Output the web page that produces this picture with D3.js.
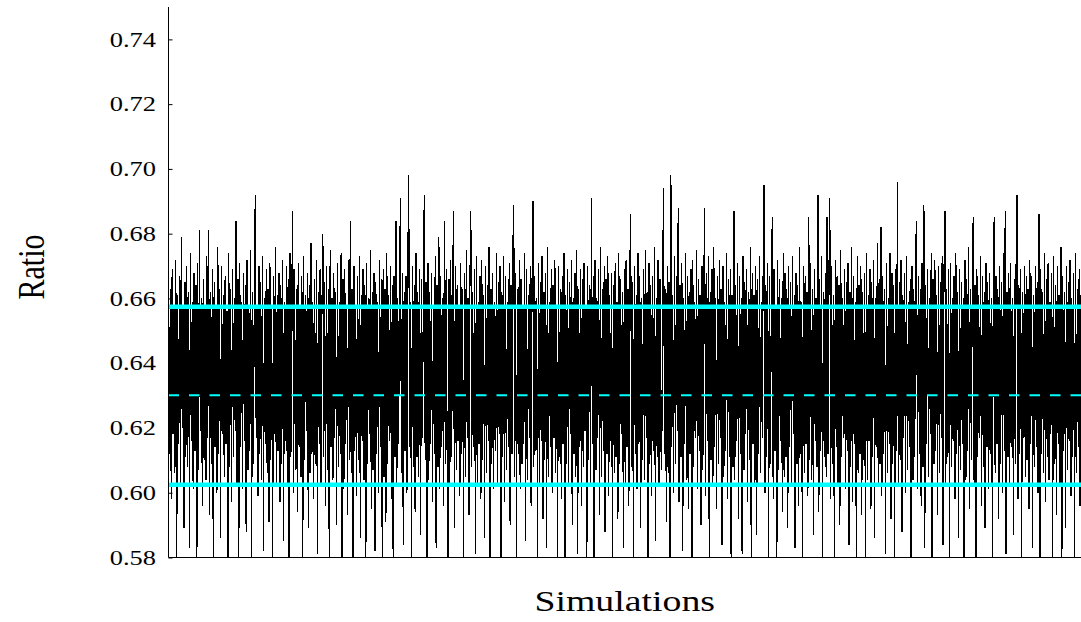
<!DOCTYPE html>
<html><head><meta charset="utf-8">
<script src="https://cdn.jsdelivr.net/npm/d3@7"></script>
<style>html,body{margin:0;padding:0;background:#fff;} svg{display:block;}</style>
</head><body>
<svg id="chart" width="1081" height="622"></svg>
<script>
// ---- data ----
const ratios = [
0.676,0.612,0.663,0.598,0.669,0.618,0.657,0.606,0.672,0.574,0.661,0.615,0.667,0.603,0.679,0.620,0.658,0.589,0.665,0.611,
0.670,0.608,0.662,0.583,0.674,0.616,0.659,0.601,0.668,0.613,0.664,0.571,0.671,0.607,0.681,0.619,0.660,0.596,0.666,0.610,
0.657,0.604,0.673,0.617,0.681,0.593,0.662,0.609,0.669,0.578,0.665,0.614,0.658,0.600,0.676,0.612,0.663,0.586,0.670,0.618,
0.661,0.605,0.667,0.615,0.656,0.572,0.674,0.608,0.663,0.597,0.669,0.611,0.660,0.619,0.684,0.603,0.666,0.580,0.671,0.614,
0.659,0.601,0.668,0.616,0.664,0.588,0.672,0.607,0.657,0.613,0.675,0.576,0.662,0.609,0.667,0.692,0.617,0.658,0.599,0.670,
0.612,0.665,0.604,0.673,0.582,0.660,0.615,0.669,0.606,0.663,0.591,0.671,0.610,0.658,0.573,0.667,0.618,0.676,0.602,0.661,
0.613,0.668,0.597,0.664,0.609,0.672,0.585,0.659,0.616,0.670,0.603,0.666,0.578,0.674,0.611,0.662,0.687,0.600,0.669,0.607,
0.663,0.594,0.671,0.614,0.658,0.605,0.667,0.575,0.673,0.610,0.661,0.619,0.668,0.589,0.664,0.606,0.677,0.612,0.659,0.598,
0.666,0.609,0.672,0.581,0.662,0.615,0.669,0.603,0.657,0.680,0.611,0.665,0.596,0.670,0.607,0.663,0.574,0.675,0.614,0.660,
0.604,0.668,0.617,0.662,0.590,0.671,0.608,0.659,0.612,0.674,0.579,0.666,0.601,0.669,0.615,0.657,0.593,0.672,0.610,0.684,
0.606,0.663,0.576,0.670,0.613,0.658,0.599,0.667,0.610,0.673,0.586,0.661,0.616,0.669,0.604,0.664,0.572,0.671,0.609,0.660,
0.618,0.675,0.595,0.662,0.607,0.668,0.582,0.665,0.612,0.659,0.600,0.672,0.614,0.666,0.577,0.669,0.605,0.663,0.591,0.674,
0.609,0.661,0.616,0.670,0.598,0.664,0.573,0.667,0.611,0.684,0.603,0.660,0.615,0.671,0.691,0.606,0.668,0.584,0.662,0.613,
0.667,0.600,0.672,0.698,0.614,0.659,0.579,0.670,0.608,0.664,0.594,0.674,0.611,0.662,0.605,0.669,0.587,0.666,0.617,0.660,
0.692,0.610,0.665,0.575,0.671,0.604,0.662,0.615,0.668,0.597,0.657,0.612,0.673,0.583,0.664,0.608,0.679,0.601,0.667,0.614,
0.660,0.596,0.684,0.609,0.669,0.614,0.578,0.666,0.603,0.672,0.611,0.661,0.687,0.589,0.670,0.607,0.664,0.616,0.658,0.599,
0.671,0.612,0.663,0.574,0.668,0.605,0.675,0.617,0.660,0.593,0.666,0.687,0.608,0.662,0.614,0.669,0.581,0.673,0.602,0.659,
0.615,0.667,0.598,0.672,0.610,0.661,0.586,0.670,0.606,0.664,0.616,0.676,0.572,0.663,0.609,0.668,0.601,0.659,0.613,0.674,
0.603,0.665,0.618,0.670,0.580,0.662,0.611,0.673,0.597,0.667,0.607,0.659,0.614,0.671,0.590,0.664,0.612,0.676,0.689,0.605,
0.668,0.577,0.663,0.612,0.672,0.601,0.666,0.609,0.658,0.615,0.674,0.585,0.669,0.604,0.661,0.617,0.670,0.596,0.664,0.690,
0.608,0.667,0.613,0.660,0.575,0.671,0.603,0.665,0.616,0.673,0.592,0.662,0.610,0.668,0.583,0.676,0.605,0.659,0.614,0.669,
0.600,0.664,0.617,0.672,0.606,0.658,0.579,0.670,0.611,0.663,0.598,0.667,0.615,0.674,0.573,0.661,0.609,0.669,0.602,0.665,
0.618,0.672,0.590,0.660,0.612,0.668,0.605,0.675,0.581,0.663,0.614,0.669,0.596,0.666,0.608,0.671,0.619,0.657,0.577,0.670,
0.610,0.664,0.602,0.691,0.615,0.667,0.574,0.672,0.607,0.660,0.617,0.669,0.593,0.676,0.605,0.663,0.613,0.670,0.588,0.666,
0.612,0.673,0.599,0.661,0.616,0.668,0.578,0.664,0.606,0.671,0.611,0.659,0.592,0.674,0.609,0.666,0.618,0.662,0.583,0.669,
0.603,0.672,0.614,0.663,0.596,0.668,0.686,0.608,0.665,0.576,0.670,0.612,0.661,0.601,0.674,0.615,0.667,0.589,0.660,0.610,
0.669,0.604,0.675,0.617,0.662,0.573,0.671,0.609,0.664,0.599,0.667,0.613,0.676,0.585,0.660,0.611,0.672,0.602,0.666,0.615,
0.607,0.668,0.694,0.612,0.663,0.591,0.670,0.606,0.665,0.578,0.698,0.614,0.661,0.600,0.673,0.609,0.667,0.619,0.688,0.597,
0.664,0.611,0.671,0.582,0.660,0.615,0.674,0.604,0.667,0.595,0.662,0.612,0.669,0.574,0.672,0.608,0.659,0.617,0.675,0.601,
0.666,0.613,0.661,0.590,0.670,0.607,0.664,0.688,0.599,0.668,0.616,0.673,0.579,0.662,0.610,0.669,0.603,0.676,0.614,0.660,
0.595,0.667,0.609,0.672,0.617,0.663,0.584,0.670,0.605,0.659,0.613,0.674,0.598,0.666,0.611,0.669,0.576,0.661,0.608,0.687,
0.604,0.664,0.616,0.671,0.592,0.667,0.612,0.660,0.581,0.673,0.607,0.665,0.618,0.669,0.597,0.662,0.610,0.676,0.573,0.668,
0.615,0.661,0.603,0.670,0.587,0.666,0.612,0.673,0.606,0.659,0.617,0.668,0.695,0.600,0.664,0.611,0.671,0.578,0.667,0.609,
0.662,0.685,0.598,0.669,0.613,0.658,0.575,0.672,0.607,0.666,0.616,0.660,0.594,0.674,0.605,0.668,0.611,0.663,0.589,0.670,
0.614,0.665,0.602,0.673,0.618,0.661,0.583,0.668,0.609,0.664,0.596,0.676,0.612,0.659,0.572,0.670,0.606,0.667,0.615,0.662,
0.599,0.685,0.610,0.671,0.604,0.663,0.587,0.669,0.616,0.660,0.608,0.692,0.594,0.666,0.613,0.673,0.578,0.662,0.611,0.668,
0.605,0.685,0.612,0.666,0.691,0.598,0.670,0.609,0.661,0.574,0.672,0.614,0.667,0.603,0.664,0.590,0.675,0.611,0.660,0.617,
0.669,0.601,0.665,0.613,0.671,0.584,0.662,0.608,0.676,0.597,0.667,0.615,0.659,0.579,0.673,0.606,0.664,0.612,0.670,0.593,
0.662,0.610,0.668,0.575,0.674,0.604,0.661,0.616,0.669,0.595,0.665,0.611,0.672,0.586,0.660,0.614,0.677,0.602,0.666,0.609,
0.682,0.599,0.667,0.612,0.663,0.581,0.671,0.606,0.660,0.615,0.674,0.592,0.668,0.609,0.664,0.577,0.669,0.613,0.696,0.603,
0.665,0.610,0.672,0.588,0.661,0.617,0.668,0.600,0.673,0.607,0.659,0.614,0.666,0.573,0.670,0.604,0.663,0.611,0.676,0.684,
0.601,0.667,0.612,0.663,0.596,0.671,0.608,0.689,0.583,0.664,0.615,0.669,0.605,0.660,0.618,0.674,0.578,0.666,0.609,0.672,
0.613,0.661,0.593,0.670,0.606,0.665,0.617,0.673,0.584,0.668,0.687,0.602,0.663,0.611,0.669,0.575,0.671,0.608,0.660,0.616,
0.667,0.598,0.674,0.612,0.662,0.586,0.669,0.607,0.665,0.615,0.660,0.572,0.672,0.604,0.666,0.613,0.676,0.595,0.663,0.610,
0.670,0.685,0.603,0.664,0.579,0.669,0.611,0.661,0.617,0.673,0.596,0.667,0.608,0.662,0.589,0.671,0.614,0.665,0.601,0.668,
0.612,0.660,0.574,0.672,0.685,0.606,0.667,0.615,0.663,0.592,0.670,0.609,0.665,0.600,0.674,0.613,0.687,0.581,0.662,0.611,
0.668,0.603,0.671,0.614,0.660,0.587,0.666,0.609,0.673,0.692,0.598,0.664,0.612,0.669,0.576,0.662,0.617,0.670,0.605,0.667,
0.610,0.663,0.595,0.672,0.615,0.667,0.583,0.661,0.608,0.670,0.614,0.665,0.600,0.686,0.574,0.669,0.612,0.662,0.606,0.674,
0.597,0.666,0.611,0.671,0.604,0.659,0.618,0.668,0.580,0.673,0.609,0.664,0.593,0.670,0.615,0.661,0.603,0.676,0.572,0.667,
0.613,0.662,0.589,0.670,0.607,0.665,0.616,0.672,0.599,0.660,0.611,0.668,0.578,0.674,0.606,0.663,0.614,0.669,0.596,0.661
];
const yTicks = [0.58, 0.60, 0.62, 0.64, 0.66, 0.68, 0.70, 0.72, 0.74];
const refValues = [0.6574, 0.6301, 0.6025];   // upper bound, mean, lower bound
const refKinds = ["solid", "dashed", "solid"];
const xLabel = "Simulations";
const yLabel = "Ratio";

// ---- layout ----
const W = 1081, H = 622;
const pLeft = 168.5, pRight = 1081, pTop = 7, pBottom = 557.5;
const font = "'Liberation Serif','Times New Roman',Times,serif";
const stretch = 1.26;

const svg = d3.select("#chart");
svg.append("rect").attr("width", W).attr("height", H).attr("fill", "#fff");

const x = d3.scaleLinear().domain([0, ratios.length - 1]).range([pLeft, pRight]);
const y = d3.scaleLinear().domain([0.58, 0.75]).range([pBottom, pTop]);

svg.append("defs").append("clipPath").attr("id", "plotclip")
  .append("rect").attr("x", pLeft).attr("y", pTop)
  .attr("width", pRight - pLeft).attr("height", pBottom - pTop);

const plot = svg.append("g").attr("clip-path", "url(#plotclip)");

plot.append("path")
  .datum(ratios)
  .attr("fill", "none")
  .attr("stroke", "#000")
  .attr("stroke-width", 1.2)
  .attr("stroke-linejoin", "miter")
  .attr("shape-rendering", "crispEdges")
  .attr("d", d3.line().x((d, i) => x(i)).y(d => y(d)));

plot.selectAll("line.ref")
  .data(refValues)
  .join("line")
  .attr("class", "ref")
  .attr("x1", pLeft).attr("x2", pRight)
  .attr("y1", d => y(d)).attr("y2", d => y(d))
  .attr("stroke", "#00ffff")
  .attr("stroke-width", (d, i) => refKinds[i] === "dashed" ? 2 : 4.5)
  .attr("stroke-dasharray", (d, i) => refKinds[i] === "dashed" ? "10.5,10" : null);

// bottom axis line (no ticks)
svg.append("line")
  .attr("x1", pLeft).attr("x2", pRight)
  .attr("y1", pBottom).attr("y2", pBottom)
  .attr("stroke", "#000").attr("stroke-width", 1);

// left axis
const yAxis = d3.axisLeft(y).tickValues(yTicks).tickFormat(d3.format(".2f"))
  .tickSizeInner(-4).tickSizeOuter(0).tickPadding(12.5);
const gy = svg.append("g").attr("transform", `translate(${pLeft},0)`).call(yAxis);
gy.select(".domain").attr("d", `M0,${pTop}V${pBottom}`).attr("stroke", "#000");
gy.selectAll(".tick line").attr("stroke", "#000");
gy.selectAll(".tick text")
  .attr("x", 0)
  .attr("transform", `translate(-12.5,0) scale(${stretch},1)`)
  .style("font-family", font).attr("font-size", 21).attr("fill", "#000");

// axis titles
svg.append("text")
  .attr("transform", `translate(${(pLeft + pRight) / 2},611) scale(${stretch},1)`)
  .attr("text-anchor", "middle")
  .style("font-family", font).attr("font-size", 30).attr("fill", "#000")
  .text(xLabel);

svg.append("text")
  .attr("transform", `translate(44,267) rotate(-90) scale(1,${stretch})`)
  .attr("text-anchor", "middle")
  .style("font-family", font).attr("font-size", 30).attr("fill", "#000")
  .text(yLabel);
</script>
</body></html>
